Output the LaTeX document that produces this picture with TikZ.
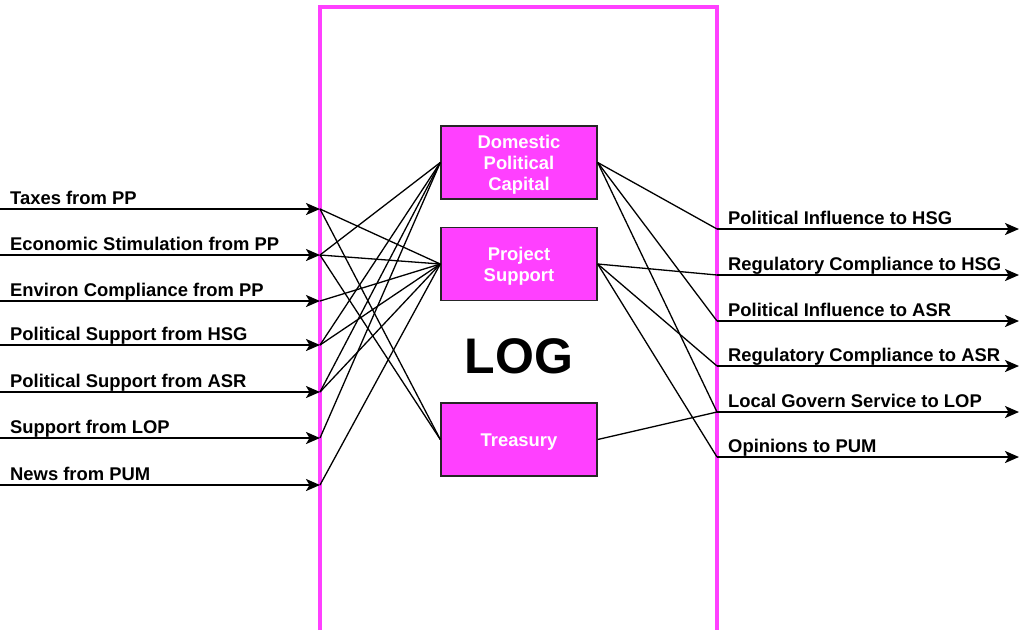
\documentclass[tikz,border=0pt]{standalone}
\usepackage{fontspec}
\setmainfont{Liberation Sans}
\usetikzlibrary{arrows.meta}
\definecolor{mag}{RGB}{255,64,255}
\begin{document}
\begin{tikzpicture}[x=1pt,y=-1pt,
  flow/.style={line width=2.1pt,-{Stealth[length=14pt,width=12pt,inset=3.5pt]}},
  link/.style={line width=1.3pt},
  store/.style={draw=black!85,line width=1.4pt,fill=mag,minimum width=156pt,
    minimum height=73pt,inner sep=0pt},
  storetext/.style={inner sep=0pt,text=white,align=center,
    font=\fontsize{18.4}{21}\selectfont\bfseries},
  lbl/.style={anchor=base west,inner sep=0pt,font=\fontsize{18.4}{21}\selectfont\bfseries}]
\useasboundingbox (0,0) rectangle (1019,630);

% organisation boundary, open at the bottom
\draw[mag,line width=3.3pt] (320,630) -- (320,7) -- (717,7) -- (717,630);

% internal stocks
\node[store] (dpc) at (519,162.5) {};
\node[store] (ps)  at (519,264)   {};
\node[store] (tr)  at (519,439.5) {};
\node[storetext] (dpct) at ([yshift=-2.5pt]dpc.center) {Domestic\\Political\\Capital};
\node[storetext] (pst)  at ([yshift=-2.5pt]ps.center)  {Project\\Support};
\node[storetext] (trt)  at ([yshift=-2.5pt]tr.center)  {Treasury};
\node[anchor=base,inner sep=0pt,font=\fontsize{50}{50}\selectfont\bfseries] (log) at (519,373) {LOG};

% incoming flows
\foreach \i/\y/\t in {1/209/Taxes from PP,
                      2/255/Economic Stimulation from PP,
                      3/301/Environ Compliance from PP,
                      4/345/Political Support from HSG,
                      5/392/Political Support from ASR,
                      6/438/Support from LOP,
                      7/485/News from PUM}{
  \coordinate (s\i) at (0,\y);
  \coordinate (a\i) at (320,\y);
  \draw[flow] (s\i) -- (a\i);
  \node[lbl] (l\i) at (10,\y-5) {\t};
}

% outgoing flows
\foreach \i/\y/\t in {1/229/Political Influence to HSG,
                      2/275/Regulatory Compliance to HSG,
                      3/321/Political Influence to ASR,
                      4/366/Regulatory Compliance to ASR,
                      5/412/Local Govern Service to LOP,
                      6/457/Opinions to PUM}{
  \coordinate (b\i) at (717,\y);
  \coordinate (e\i) at (1019,\y);
  \draw[flow] (b\i) -- (e\i);
  \node[lbl] (r\i) at (728,\y-5) {\t};
}

% inputs feeding the stocks
\draw[link] (a1) -- (ps.west);
\draw[link] (a1) -- (tr.west);
\draw[link] (a2) -- (dpc.west);
\draw[link] (a2) -- (ps.west);
\draw[link] (a2) -- (tr.west);
\draw[link] (a3) -- (ps.west);
\draw[link] (a4) -- (dpc.west);
\draw[link] (a4) -- (ps.west);
\draw[link] (a5) -- (dpc.west);
\draw[link] (a5) -- (ps.west);
\draw[link] (a6) -- (dpc.west);
\draw[link] (a7) -- (ps.west);

% stocks feeding the outputs
\draw[link] (dpc.east) -- (b1);
\draw[link] (dpc.east) -- (b3);
\draw[link] (dpc.east) -- (b5);
\draw[link] (ps.east) -- (b2);
\draw[link] (ps.east) -- (b4);
\draw[link] (ps.east) -- (b6);
\draw[link] (tr.east) -- (b5);
\end{tikzpicture}
\end{document}
